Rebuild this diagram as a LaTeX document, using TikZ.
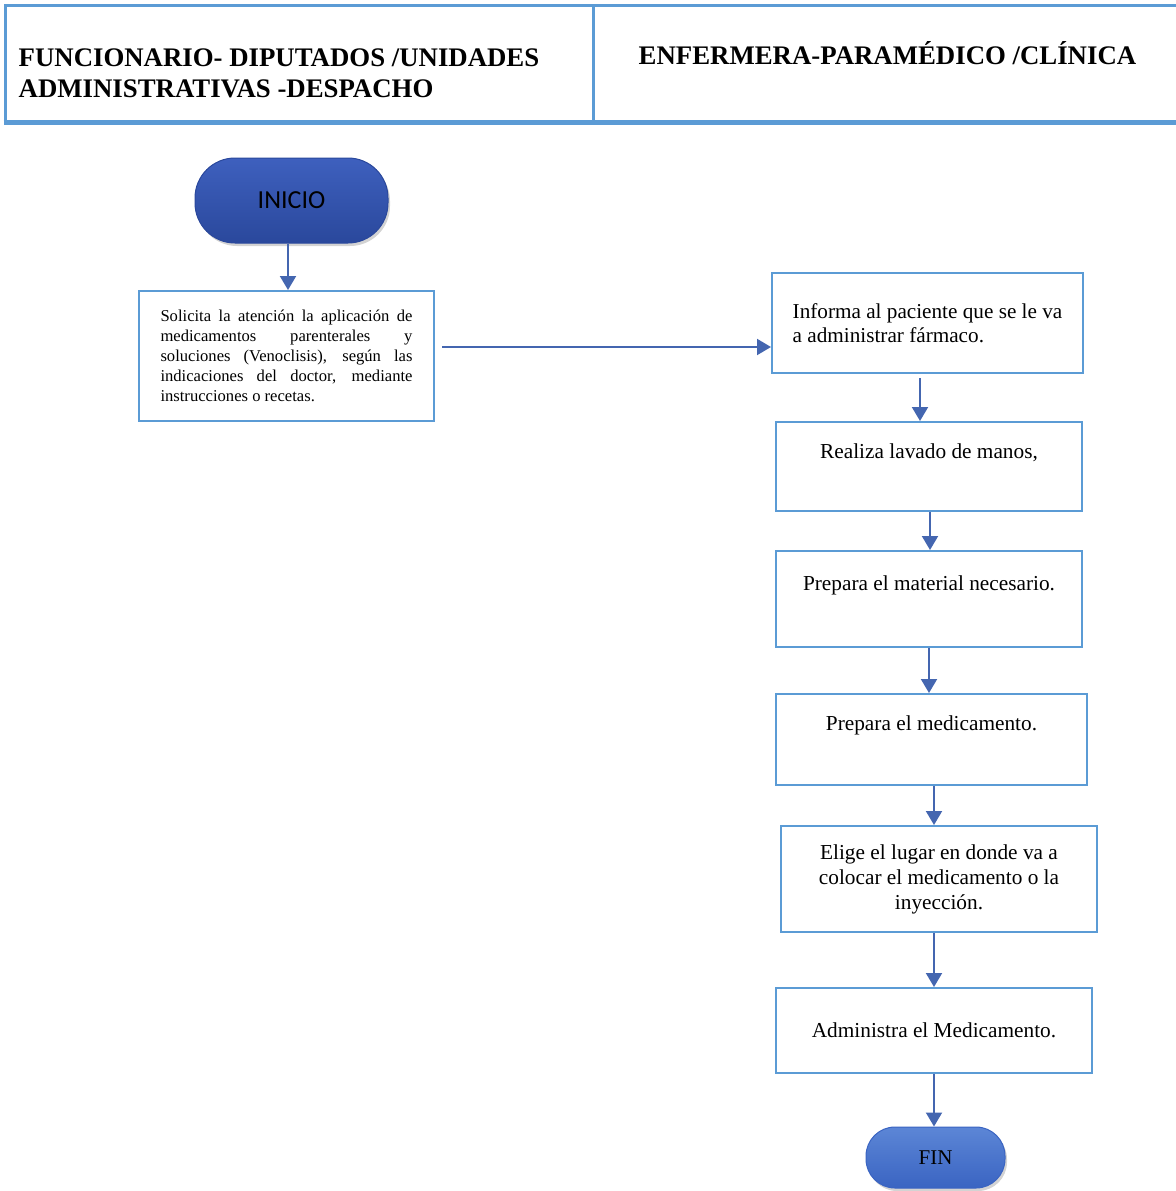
\documentclass[tikz,border=0pt]{standalone}
\usepackage{fontspec}
\setmainfont{Liberation Serif}
\newfontfamily\calibri{Carlito}
\usetikzlibrary{arrows.meta,shadows,positioning}
\definecolor{laneblue}{RGB}{91,155,213}
\definecolor{flowblue}{RGB}{68,102,176}
\definecolor{iniciotop}{RGB}{62,96,190}
\definecolor{iniciobot}{RGB}{42,72,156}
\definecolor{fintop}{RGB}{92,134,214}
\definecolor{finbot}{RGB}{58,100,194}
\tikzset{
  lane/.style={draw=laneblue,line width=3pt,inner sep=0pt},
  lanetitle/.style={font=\fontsize{26.8}{31}\selectfont\bfseries,inner sep=0pt},
  stepbox/.style={draw=laneblue,line width=2pt,fill=white,inner sep=0pt,font=\fontsize{21.3}{25}\selectfont},
  term/.style={line width=1pt,drop shadow={opacity=0.35,shadow xshift=2pt,shadow yshift=-3pt}},
  flow/.style={draw=flowblue,line width=2pt,-{Triangle[width=16pt,length=14pt]}}
}
\newcommand{\stepnode}[6]{\node[stepbox,minimum width=#3pt,minimum height=#4pt] (#5) at (#1,#2) {#6};}
\newcommand{\flow}[3]{\draw[flow] ([xshift=#3pt]#1.south) -- ([xshift=#3pt]#1.south |- #2.north);}

\begin{document}
\begin{tikzpicture}[x=1pt,y=-1pt]
  \useasboundingbox (0,0) rectangle (1175,1191);
  % lanes
  \node[lane,minimum width=588pt,minimum height=116pt] (lane1) at (299,63) {};
  \node[lane,minimum width=587pt,minimum height=116pt] (lane2) at (886.5,63) {};
  \draw[laneblue,line width=4.5pt] (lane1.south west) -- (lane2.south east);
  \node[lanetitle,align=left,anchor=north west] (t1) at ([xshift=15pt,yshift=-45pt]lane1.north west)
    {FUNCIONARIO- DIPUTADOS /UNIDADES\\ADMINISTRATIVAS -DESPACHO};
  \node[lanetitle] (t2) at (887.5,53) {ENFERMERA-PARAMÉDICO /CLÍNICA};

  % start
  \node[term,draw=iniciobot,top color=iniciotop,bottom color=iniciobot,rounded corners=40pt,
        minimum width=193pt,minimum height=85pt,font=\calibri\fontsize{26}{30}\selectfont] (inicio) at (291.5,200.5) {INICIO};
  \node[stepbox,minimum width=295pt,minimum height=130pt,text width=252pt,align=justify,
        font=\fontsize{16.6}{20}\selectfont] (solicita) at (286.5,356)
    {Solicita la atención la aplicación de\linebreak medicamentos parenterales y\linebreak soluciones (Venoclisis), según las\linebreak indicaciones del doctor, mediante\linebreak instrucciones o recetas.};

  % steps
  \node[stepbox,minimum width=311pt,minimum height=100pt,align=left,
        font=\fontsize{21.2}{24}\selectfont] (informa) at (927.5,323)
    {Informa al paciente que se le va\\a administrar fármaco.};
  \stepnode{929}{466.5}{306}{89}{lavado}{\shortstack{Realiza lavado de manos,\\ \strut}}
  \stepnode{929}{599}{306}{96}{material}{\shortstack{Prepara el material necesario.\\ \strut}}
  \stepnode{931.5}{739.5}{311}{91}{prepara}{\shortstack{Prepara el medicamento.\\ \strut}}
  \node[stepbox,minimum width=316pt,minimum height=106pt,align=center] (elige) at (939,879)
    {Elige el lugar en donde va a\\colocar el medicamento o la\\inyección.};
  \stepnode{934}{1030.5}{316}{85}{administra}{Administra el Medicamento.}
  \node[term,draw=finbot,top color=fintop,bottom color=finbot,rounded corners=29pt,
        minimum width=139pt,minimum height=61pt,font=\fontsize{21}{24}\selectfont] (fin) at (935.5,1157.5) {FIN};

  % connectors
  \flow{inicio}{solicita}{-3.5}
  \draw[flow,shorten <=7pt] ([yshift=9pt]solicita.east) -- ([yshift=9pt]solicita.east -| informa.west);
  \draw[flow,shorten <=4pt] ([xshift=-7.5pt]informa.south) -- ([xshift=-7.5pt]informa.south |- lavado.north);
  \flow{lavado}{material}{1}
  \flow{material}{prepara}{0}
  \flow{prepara}{elige}{2.5}
  \flow{elige}{administra}{-5}
  \flow{administra}{fin}{0}
\end{tikzpicture}
\end{document}
